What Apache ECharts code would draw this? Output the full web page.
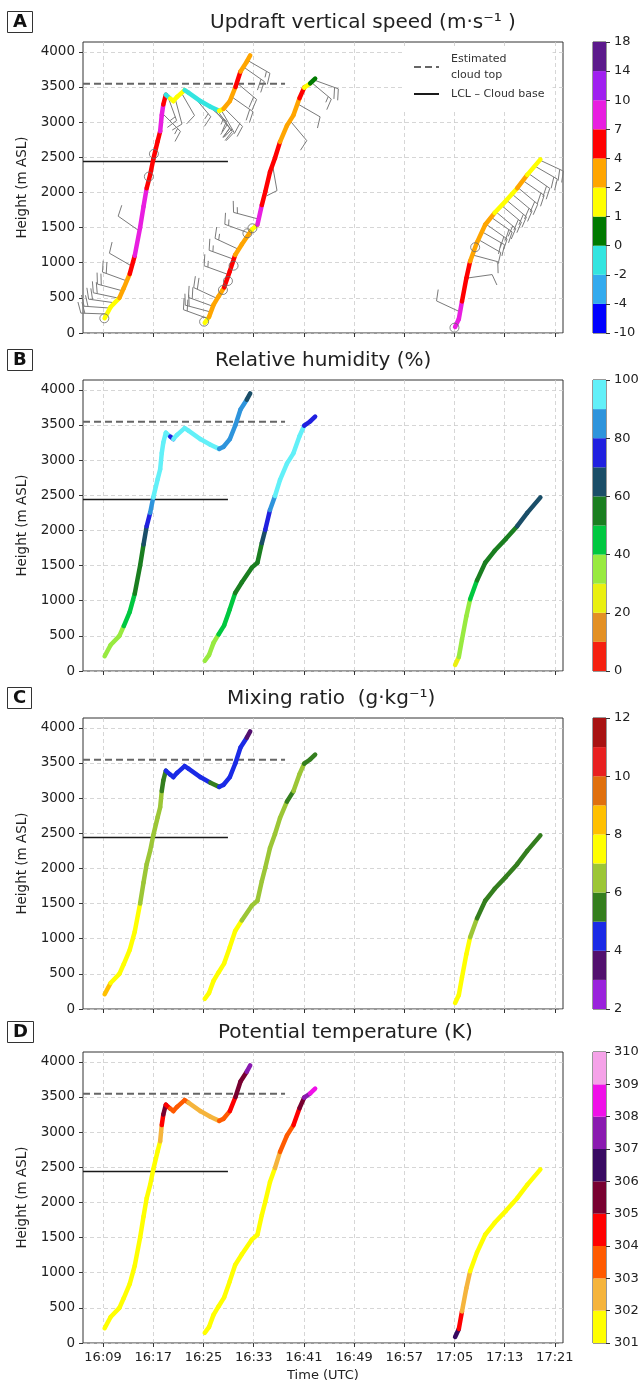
<!DOCTYPE html>
<html>
<head>
<meta charset="utf-8">
<script src="https://cdn.jsdelivr.net/npm/echarts@6.0.0/dist/echarts.min.js"></script>
<style>
  html, body { margin: 0; padding: 0; background: #fff; }
  #chart { width: 643px; height: 1384px; }
</style>
</head>
<body>
<div id="chart"></div>
<script>
// time axis: minutes after 16:00 UTC
const timeTicks = [9, 17, 25, 33, 41, 49, 57, 65, 73, 81];
const timeLabels = ['16:09', '16:17', '16:25', '16:33', '16:41', '16:49', '16:57', '17:05', '17:13', '17:21'];
const heightTicks = [0, 500, 1000, 1500, 2000, 2500, 3000, 3500, 4000];
const timeMin = 5.8, timeMax = 82.3, heightMax = 4140;

// flight tracks (time, height)
const f1Time = [9.25, 10.2, 11.6, 12.3, 13.25, 14.05, 14.9, 15.45, 15.95, 16.5, 17.0, 17.7, 18.1, 18.35, 18.6,
  19.0, 19.7, 20.2, 20.8, 22.0, 22.6, 24.5, 26.1, 27.5, 28.2, 29.2, 30.1, 30.9, 31.9, 32.45];
const f1Height = [210, 370, 500, 640, 840, 1100, 1500, 1800, 2060, 2250, 2470, 2730, 2870, 3100, 3250,
  3390, 3335, 3300, 3360, 3455, 3420, 3300, 3220, 3160, 3190, 3300, 3500, 3720, 3860, 3950];
const f2Time = [25.2, 25.9, 26.6, 27.4, 28.3, 29.2, 30.05, 31.1, 32.7, 33.6, 34.3, 34.85, 35.6, 36.4, 37.2,
  38.3, 39.35, 40.3, 41.05, 42.0, 42.8];
const f2Height = [145, 230, 400, 520, 650, 880, 1110, 1260, 1470, 1540, 1820, 2010, 2290, 2490, 2720,
  2950, 3100, 3340, 3490, 3550, 3620];
const f3Time = [65.1, 65.7, 66.2, 66.9, 67.5, 68.6, 69.9, 71.4, 73.2, 75.0, 76.6, 78.7];
const f3Height = [85, 200, 450, 780, 1020, 1290, 1540, 1710, 1880, 2060, 2250, 2470];

// values along each track, one per segment (point i -> i+1)
const f1W = [1.5, 1.5, 3, 3, 5, 8, 8, 8, 5, 5, 5, 5, 8, 8, 5, -1, 1.5, 1.5, 1.5, -1, -1, -1, -1, 1.5, 3, 3, 5, 3, 3];
const f2W = [1.5, 3, 3, 3, 5, 5, 3, 3, 1.5, 8, 5, 5, 5, 5, 3, 3, 3, 5, 1.5, 0.5];
const f3W = [8, 8, 5, 5, 3, 3, 3, 1.5, 1.5, 3, 1.5];

const f1RH = [35, 35, 35, 45, 45, 55, 55, 65, 75, 85, 95, 95, 95, 95, 95, 95, 75, 95, 95, 95, 95, 95, 95, 85, 85, 85, 85, 85, 65];
const f2RH = [35, 35, 35, 45, 45, 45, 55, 55, 55, 55, 65, 75, 85, 95, 95, 95, 95, 95, 75, 75];
const f3RH = [25, 35, 35, 35, 45, 55, 55, 55, 55, 65, 65];

const f1MR = [8.5, 7.5, 7.5, 7.5, 7.5, 7.5, 6.5, 6.5, 6.5, 6.5, 6.5, 6.5, 6.5, 5.5, 5.5, 4.5, 4.5, 4.5, 4.5, 4.5, 4.5, 4.5, 5.5, 4.5, 4.5, 4.5, 4.5, 4.5, 3.5];
const f2MR = [7.5, 7.5, 7.5, 7.5, 7.5, 7.5, 7.5, 6.5, 6.5, 6.5, 6.5, 6.5, 6.5, 6.5, 6.5, 5.5, 6.5, 6.5, 5.5, 5.5];
const f3MR = [7.5, 7.5, 7.5, 7.5, 6.5, 5.5, 5.5, 5.5, 5.5, 5.5, 5.5];

const f1TH = [301.5, 301.5, 301.5, 301.5, 301.5, 301.5, 301.5, 301.5, 301.5, 301.5, 301.5, 301.5, 302.5, 304.5, 305.5,
  304.5, 303.5, 303.5, 303.5, 303.5, 302.5, 302.5, 302.5, 303.5, 303.5, 304.5, 305.5, 305.5, 307.5];
const f2TH = [301.5, 301.5, 301.5, 301.5, 301.5, 301.5, 301.5, 301.5, 301.5, 301.5, 301.5, 301.5, 301.5, 302.5, 303.5,
  303.5, 304.5, 305.5, 307.5, 308.5];
const f3TH = [306.5, 304.5, 302.5, 302.5, 301.5, 301.5, 301.5, 301.5, 301.5, 301.5, 301.5];

// colour scales
const wBounds = [-10, -4, -2, 0, 1, 2, 4, 7, 10, 14, 18];
const wColors = ['#0000ff', '#33aaee', '#33e5e0', '#007a00', '#ffff00', '#ffa500', '#ff0000', '#e81ee0', '#a020f0', '#5c1a8c'];
const wTickIdx = [0, 1, 2, 3, 4, 5, 6, 7, 8, 9, 10];
const rhBounds = [0, 10, 20, 30, 40, 50, 60, 70, 80, 90, 100];
const rhColors = ['#f52010', '#e39024', '#eaf010', '#98ea40', '#00c840', '#1a7e20', '#1a4e68', '#2020e0', '#2e94dc', '#62f0f8'];
const rhTickIdx = [0, 2, 4, 6, 8, 10];
const mrBounds = [2, 3, 4, 5, 6, 7, 8, 9, 10, 11, 12];
const mrColors = ['#9a22dc', '#52106e', '#1a2ae6', '#347e1e', '#9cc636', '#ffff00', '#ffc000', '#e0700e', '#e82020', '#a81212'];
const mrTickIdx = [0, 2, 4, 6, 8, 10];
const thBounds = [301, 302, 303, 304, 305, 306, 307, 308, 309, 310];
const thColors = ['#ffff00', '#f5b43c', '#ff5a00', '#ff0000', '#780030', '#380a62', '#8a1ab0', '#f010e8', '#f5a2e8'];
const thTickIdx = [0, 1, 2, 3, 4, 5, 6, 7, 8, 9];

// reference heights
const cloudTopHeight = 3545, cloudTopEnd = 38.0;
const lclHeight = 2440, lclEnd = 28.9;

// circled points (panel A)
const circleTime = [9.2, 16.3, 17.1, 25.1, 28.1, 28.9, 29.8, 32.0, 32.8, 65.0, 68.3];
const circleHeight = [209, 2225, 2548, 161, 612, 740, 958, 1419, 1490, 75, 1220];

// wind barbs (panel A): base, staff angle (deg), number of full barbs
const barbTime = [9.6, 10.1, 10.8, 11.5, 12.1, 12.8, 13.6, 14.8, 18.4, 19.3, 20.5, 21.5, 23.5, 25.5, 26.5, 27.2, 27.8, 28.3, 29.5, 30.3, 31.3, 32.0,
  25.7, 26.1, 26.5, 27.2, 29.0, 29.8, 30.6, 32.3, 33.8, 36.0, 38.8, 40.0, 42.2, 42.6,
  65.9, 66.9, 67.9, 68.8, 69.4, 70.0, 70.8, 71.6, 72.5, 73.3, 74.2, 75.1, 75.9, 76.8, 77.8, 78.6];
const barbHeight = [270, 355, 430, 495, 600, 740, 950, 1450, 3130, 3370, 3330, 3415, 3360, 3250, 3200, 3170, 3175, 3200, 3360, 3560, 3790, 3880,
  205, 300, 380, 490, 830, 1050, 1190, 1420, 1620, 2390, 3020, 3260, 3565, 3600,
  300, 780, 1110, 1330, 1440, 1550, 1650, 1725, 1815, 1890, 1975, 2070, 2170, 2270, 2375, 2460];
const barbAngle = [178, 176, 172, 168, 165, 160, 150, 145, -45, -70, -75, -60, -50, -40, -50, -55, -60, -45, -35, -40, -35, -30,
  160, 165, 160, 155, 160, 160, 155, 160, 165, -80, -50, -30, -40, -20,
  155, 8, -15, -30, -30, -35, -35, -40, -40, -40, -40, -40, -35, -35, -30, -25];
const barbCount = [2, 2, 2, 2, 2, 2, 1, 1, 1.5, 1.5, 1, 1, 1.5, 1.5, 2, 2, 2, 2, 2, 2, 2, 1.5,
  2, 2, 2, 2, 1.5, 1.5, 1.5, 1.5, 1.5, 1, 1, 1, 1.5, 2,
  1, 1, 1, 1, 2, 2, 2, 2, 2, 2, 2, 2, 2, 2, 2, 2];

const panels = [
  { letter: 'A', title: 'Updraft vertical speed (m·s⁻¹ )', titleLeft: 210, top: 42,
    bounds: wBounds, colors: wColors, tickIdx: wTickIdx, vals: [f1W, f2W, f3W] },
  { letter: 'B', title: 'Relative humidity (%)', titleLeft: 215, top: 380,
    bounds: rhBounds, colors: rhColors, tickIdx: rhTickIdx, vals: [f1RH, f2RH, f3RH] },
  { letter: 'C', title: 'Mixing ratio  (g·kg⁻¹)', titleLeft: 227, top: 718,
    bounds: mrBounds, colors: mrColors, tickIdx: mrTickIdx, vals: [f1MR, f2MR, f3MR] },
  { letter: 'D', title: 'Potential temperature (K)', titleLeft: 218, top: 1052,
    bounds: thBounds, colors: thColors, tickIdx: thTickIdx, vals: [f1TH, f2TH, f3TH] }
];

const PLOT_H = 291;
const tracks = [[f1Time, f1Height], [f2Time, f2Height], [f3Time, f3Height]];

function segments(vals) {
  const out = [];
  vals.forEach((v, f) => {
    const [t, h] = tracks[f];
    for (let i = 0; i < v.length; i++) out.push([t[i], h[i], t[i + 1], h[i + 1], v[i]]);
  });
  return out;
}

function renderSegment(params, api) {
  const a = api.coord([api.value(0), api.value(1)]);
  const b = api.coord([api.value(2), api.value(3)]);
  return {
    type: 'line',
    shape: { x1: a[0], y1: a[1], x2: b[0], y2: b[1] },
    style: { stroke: api.visual('color'), lineWidth: 4.5, lineCap: 'round' }
  };
}

function renderBarb(params, api) {
  const p = api.coord([api.value(0), api.value(1)]);
  const ang = api.value(2) * Math.PI / 180;
  let left = api.value(3);
  const ux = Math.cos(ang), uy = -Math.sin(ang);
  const bx = Math.sin(ang), by = Math.cos(ang);
  const len = 26;
  const tip = [p[0] + ux * len, p[1] + uy * len];
  const style = { stroke: '#7a7a7a', lineWidth: 1 };
  const kids = [{ type: 'line', shape: { x1: p[0], y1: p[1], x2: tip[0], y2: tip[1] }, style }];
  let pos = 0;
  while (left > 0) {
    const size = left >= 1 ? 11 : 6;
    const sx = tip[0] - ux * pos, sy = tip[1] - uy * pos;
    kids.push({ type: 'line',
      shape: { x1: sx, y1: sy, x2: sx + bx * size + ux * size * 0.3, y2: sy + by * size + uy * size * 0.3 },
      style });
    pos += 4;
    left -= 1;
  }
  return { type: 'group', children: kids };
}

const grids = [], xAxes = [], yAxes = [], series = [], visualMaps = [], titles = [];

panels.forEach((p, k) => {
  const gi = 2 * k;      // plot grid
  const ci = 2 * k + 1;  // colour bar grid

  grids.push({ left: 83, top: p.top, width: 480, height: PLOT_H, show: true, borderColor: '#333', borderWidth: 1 });
  grids.push({ left: 593, top: p.top, width: 13, height: PLOT_H, show: true, borderColor: '#333', borderWidth: 1 });

  titles.push({ text: p.title, left: p.titleLeft, top: p.top - 29, padding: 0,
    textStyle: { fontSize: 20, fontWeight: 'normal', color: '#222' } });
  titles.push({ text: p.letter, left: 7, top: p.top - 31, padding: [2, 6, 1, 6], borderColor: '#333', borderWidth: 1,
    textStyle: { fontSize: 18, fontWeight: 'bold', color: '#111', lineHeight: 19 } });

  xAxes.push({
    gridIndex: gi, type: 'value', min: timeMin, max: timeMax,
    axisLine: { show: false },
    axisTick: { show: true, customValues: timeTicks, length: 4, lineStyle: { color: '#333' } },
    axisLabel: { show: k === 3, customValues: timeTicks, margin: 8, fontSize: 13, color: '#222',
      formatter: v => timeLabels[timeTicks.indexOf(v)] },
    splitLine: { show: true, lineStyle: { color: '#cccccc', type: [4, 3], width: 0.8 } },
    name: k === 3 ? 'Time (UTC)' : '', nameLocation: 'middle', nameGap: 26,
    nameTextStyle: { fontSize: 13, color: '#222' }
  });
  xAxes.push({ gridIndex: ci, type: 'category', data: [''], show: false });

  yAxes.push({
    gridIndex: gi, type: 'value', min: 0, max: heightMax,
    axisLine: { show: false },
    axisTick: { show: true, customValues: heightTicks, length: 4, lineStyle: { color: '#333' } },
    axisLabel: { customValues: heightTicks, margin: 8, fontSize: 13.5, color: '#222', formatter: v => String(v) },
    splitLine: { show: true, lineStyle: { color: '#cccccc', type: [4, 3], width: 0.8 } },
    name: 'Height (m ASL)', nameLocation: 'middle', nameGap: 45,
    nameTextStyle: { fontSize: 13.5, color: '#222' }
  });
  yAxes.push({
    gridIndex: ci, type: 'value', min: 0, max: p.colors.length, position: 'right',
    axisLine: { show: false },
    axisTick: { show: true, customValues: p.tickIdx, length: 4, lineStyle: { color: '#333' } },
    axisLabel: { customValues: p.tickIdx, margin: 8, fontSize: 13, color: '#222',
      formatter: v => String(p.bounds[v]) },
    splitLine: { show: false }
  });

  series.push({
    name: 'Estimated\ncloud top', type: 'line', xAxisIndex: gi, yAxisIndex: gi, symbol: 'none', silent: true, z: 2,
    data: [[timeMin, cloudTopHeight], [cloudTopEnd, cloudTopHeight]],
    itemStyle: { color: 'rgba(0,0,0,0)' },
    lineStyle: { color: '#666', width: 2, type: [7, 4] }
  });
  series.push({
    name: 'LCL – Cloud base', type: 'line', xAxisIndex: gi, yAxisIndex: gi, symbol: 'none', silent: true, z: 2,
    data: [[timeMin, lclHeight], [lclEnd, lclHeight]],
    itemStyle: { color: 'rgba(0,0,0,0)' },
    lineStyle: { color: '#1a1a1a', width: 1.5 }
  });

  if (k === 0) {
    series.push({
      type: 'custom', xAxisIndex: gi, yAxisIndex: gi, silent: true, z: 3,
      renderItem: renderBarb, encode: { x: 0, y: 1 },
      data: barbTime.map((t, i) => [t, barbHeight[i], barbAngle[i], barbCount[i]])
    });
  }

  const trackIdx = series.length;
  series.push({
    type: 'custom', xAxisIndex: gi, yAxisIndex: gi, silent: true, z: 4,
    renderItem: renderSegment, encode: { x: [0, 2], y: [1, 3] },
    data: segments(p.vals)
  });
  visualMaps.push({
    type: 'piecewise', show: false, seriesIndex: trackIdx, dimension: 4,
    pieces: p.colors.map((c, i) => ({ gte: p.bounds[i], lt: p.bounds[i + 1], color: c }))
  });

  if (k === 0) {
    series.push({
      type: 'scatter', xAxisIndex: gi, yAxisIndex: gi, silent: true, z: 5,
      symbol: 'circle', symbolSize: 9,
      itemStyle: { color: 'rgba(0,0,0,0)', borderColor: '#6a6a6a', borderWidth: 1 },
      data: circleTime.map((t, i) => [t, circleHeight[i]])
    });
  }

  // colour bar: one stacked block per colour class
  p.colors.forEach(c => {
    series.push({
      type: 'bar', xAxisIndex: ci, yAxisIndex: ci, stack: 'cb' + k, silent: true,
      barWidth: '100%', data: [1], itemStyle: { color: c }
    });
  });
});

const chart = echarts.init(document.getElementById('chart'), null, { renderer: 'canvas' });
chart.setOption({
  animation: false,
  backgroundColor: '#fff',
  textStyle: { fontFamily: 'DejaVu Sans' },
  title: titles,
  grid: grids,
  xAxis: xAxes,
  yAxis: yAxes,
  visualMap: visualMaps,
  legend: {
    data: ['Estimated\ncloud top', 'LCL – Cloud base'],
    orient: 'vertical', left: 402, top: 46, padding: [5, 8, 10, 11],
    itemWidth: 25, itemHeight: 10, itemGap: 3, selectedMode: false,
    backgroundColor: '#fff',
    textStyle: { fontSize: 11, color: '#333', lineHeight: 16, padding: [0, 0, 0, 7] }
  },
  series: series
});
</script>
</body>
</html>
